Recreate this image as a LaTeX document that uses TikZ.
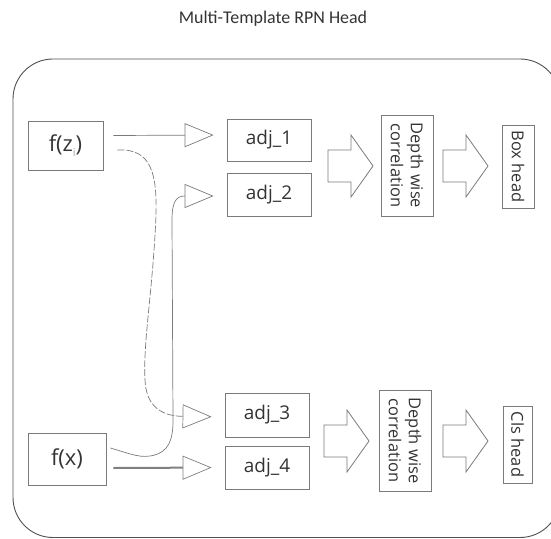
\documentclass[tikz,border=0pt]{standalone}
\usepackage{fontspec}
\setmainfont{Open Sans}
\newfontfamily\titlefont{Carlito}
\usetikzlibrary{arrows.meta,calc}
\definecolor{edge}{HTML}{7A7A7A}
\definecolor{dark}{HTML}{505050}
\definecolor{txt}{HTML}{333333}
\tikzset{
  box/.style={draw=edge, line width=0.8bp, inner sep=0pt, text=txt, font=\fontsize{19}{21}\selectfont},
  vbox/.style={box, font=\fontsize{16.5}{20}\selectfont, align=center},
  feed/.style={draw=edge, line width=0.7bp, -{Triangle[open,length=29bp,width=24bp,line width=0.7bp]}, shorten >=13bp},
  barrow/.pic={\draw[edge, line width=0.8bp, line join=miter] (0,-16)--(23,-16)--(23,-31)--(45,0)--(23,31)--(23,16)--(0,16)--cycle;}
}
\begin{document}
\begin{tikzpicture}[x=1bp,y=-1bp]
\useasboundingbox (0,0) rectangle (551,539);
\begin{scope}
\clip (0,0) rectangle (551,539);
\draw[dark, line width=0.9bp, rounded corners=40bp] (13,59) rectangle (560,537.5);
\end{scope}
\node[text=txt, font=\titlefont\fontsize{18}{20}\selectfont] (title) at (273,19) {Multi-Template RPN Head};

\node[box, minimum width=75bp, minimum height=49bp, font=\fontsize{22}{24}\selectfont] (fz) at (65.5,145.5) {f(z\raisebox{-5bp}{\fontsize{11}{11}\selectfont\color{gray!70}i})};
\node[box, minimum width=78bp, minimum height=52bp, font=\fontsize{22}{24}\selectfont] (fx) at (67,459) {f(x)};

\node[box, minimum width=84bp, minimum height=42bp] (a1) at (269,140) {adj\_1};
\node[box, minimum width=84bp, minimum height=43bp] (a2) at (269,194.5) {adj\_2};
\node[box, minimum width=84bp, minimum height=44bp] (a3) at (267,415) {adj\_3};
\node[box, minimum width=84bp, minimum height=43bp] (a4) at (267,467.5) {adj\_4};

\node[vbox, minimum width=101bp, minimum height=52bp, rotate=-90] (dw1) at (407,165.5) {Depth wise\\correlation};
\node[vbox, minimum width=101bp, minimum height=52bp, rotate=-90] (dw2) at (405,440.5) {Depth wise\\correlation};
\node[vbox, minimum width=83bp, minimum height=32bp, rotate=-90] (bh) at (518,166.5) {Box head};
\node[vbox, minimum width=77bp, minimum height=29bp, rotate=-90] (ch) at (517.5,444.5) {Cls head};

\pic at (328,166) {barrow};
\pic at (443,166) {barrow};
\pic at (324,441) {barrow};
\pic at (443,441) {barrow};

% f(z) -> adj_1
\draw[feed] ($(fz.east)+(10,-10)$) -- ($(a1.west)+(0,-5)$);
% f(z) -> adj_3 (dashed)
\draw[feed, dash pattern=on 7bp off 2bp] ($(fz.east)+(14,4.5)$) .. controls (152,148) and (157,175) .. (156,215)
  .. controls (153,290) and (143,340) .. (145,380)
  .. controls (146,405) and (160,416) .. ($(a3.west)+(0,2)$);
% f(x) -> adj_2
\draw[feed] ($(fx.east)+(4,-11)$) .. controls (125,452) and (138,458) .. (150,456)
  .. controls (170,453) and (173,438) .. (173,420) -- (172,220)
  .. controls (172,202) and (176,196) .. ($(a2.west)+(0,1.5)$);
% f(x) -> adj_4 (thick)
\draw[feed, line width=2bp, draw=gray] ($(fx.east)+(7,9)$) -- (a4.west);
\end{tikzpicture}
\end{document}
